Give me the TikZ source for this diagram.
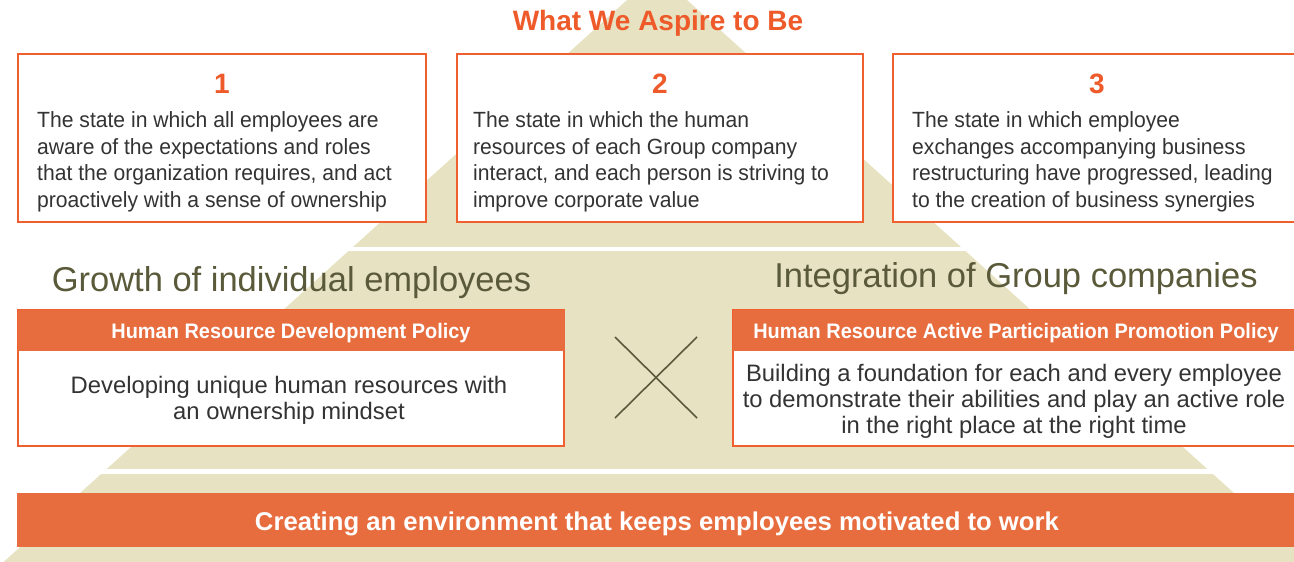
\documentclass[tikz,border=0pt]{standalone}
\usepackage{fontspec}
\setmainfont{Liberation Sans}
\newfontfamily\bodyf[FakeStretch=0.96]{Liberation Sans}
\newfontfamily\hdrf[FakeStretch=0.95]{Liberation Sans}
\definecolor{tan}{HTML}{E6E2C2}
\definecolor{orline}{HTML}{EF5F30}
\definecolor{orfill}{HTML}{E76C3E}
\definecolor{ornum}{HTML}{EE5A2A}
\definecolor{olive}{HTML}{5A5A3A}
\definecolor{txt}{HTML}{333333}
\begin{document}
\begin{tikzpicture}[x=1pt,y=-1pt,
  statebox/.style={draw=orline, line width=2pt, fill=white, inner sep=0pt},
  hdrbar/.style={draw=orfill, line width=1pt, fill=orfill, inner sep=0pt},
  numtext/.style={text=ornum, font=\bfseries\fontsize{28}{30}\selectfont},
  bodytext/.style={text=txt, inner sep=0pt, font=\bodyf\fontsize{22}{26.5}\selectfont},
  polytext/.style={text=txt, inner sep=0pt, font=\fontsize{23.8}{26}\selectfont},
  hdrtext/.style={text=white, inner sep=0pt, font=\hdrf\bfseries\fontsize{21}{24}\selectfont},
  pillar/.style={text=olive, inner sep=0pt, font=\fontsize{34.5}{38}\selectfont},
  crossline/.style={draw=olive, line width=1.6pt}
]
\useasboundingbox (0,0) rectangle (1294,562);
\clip (0,0) rectangle (1294,562);
% pyramid
\fill[tan] (657,-27) -- (1356,603) -- (-42,603) -- cycle;
\fill[white] (0,246.5) rectangle (1294,250.5);
\fill[white] (0,469) rectangle (1294,473.5);
% title
\node[text=ornum, inner sep=0pt, font=\bfseries\fontsize{28}{30}\selectfont] (title) at (658,23.5) {What We Aspire to Be};
% state boxes
\node[statebox, minimum width=408pt, minimum height=168pt] (b1) at (222,138) {};
\node[statebox, minimum width=406pt, minimum height=168pt] (b2) at (660,138) {};
\node[statebox, minimum width=408pt, minimum height=168pt] (b3) at (1097,138) {};
\node[numtext] (n1) at (222,83.5) {1};
\node[numtext] (n2) at (660,83.5) {2};
\node[numtext] (n3) at (1097,83.5) {3};
\node[bodytext, align=left, anchor=west] (t1) at (37,162) {The state in which all employees are\\aware of the expectations and roles\\that the organization requires, and act\\proactively with a sense of ownership};
\node[bodytext, align=left, anchor=west] (t2) at (473,162) {The state in which the human\\resources of each Group company\\interact, and each person is striving to\\improve corporate value};
\node[bodytext, align=left, anchor=west] (t3) at (912,162) {The state in which employee\\exchanges accompanying business\\restructuring have progressed, leading\\to the creation of business synergies};
% pillars
\node[pillar] (g1) at (291.5,283) {Growth of individual employees};
\node[pillar] (g2) at (1016,279) {Integration of Group companies};
% policy boxes
\node[statebox, minimum width=546pt, minimum height=136pt] (p1) at (291,378) {};
\node[statebox, minimum width=567pt, minimum height=136pt] (p2) at (1016.5,378) {};
\node[hdrbar, minimum width=546pt, minimum height=40pt] (h1) at (291,330) {};
\node[hdrbar, minimum width=567pt, minimum height=40pt] (h2) at (1016.5,330) {};
\node[hdrtext] (ht1) at (291,333) {Human Resource Development Policy};
\node[hdrtext] (ht2) at (1016,333) {Human Resource Active Participation Promotion Policy};
\node[polytext, align=center] (pt1) at (289,400) {Developing unique human resources with\\an ownership mindset};
\node[polytext, align=center] (pt2) at (1014,401) {Building a foundation for each and every employee\\to demonstrate their abilities and play an active role\\in the right place at the right time};
% cross
\coordinate (xa) at (615,337);
\coordinate (xb) at (697,418);
\coordinate (xc) at (697,337);
\coordinate (xd) at (615,418);
\draw[crossline] (xa) -- (xb);
\draw[crossline] (xc) -- (xd);
% base bar
\node[fill=orfill, inner sep=0pt, minimum width=1283pt, minimum height=54pt] (base) at (658.5,520) {};
\node[text=white, inner sep=0pt, font=\bfseries\fontsize{25.7}{28}\selectfont] (basetext) at (657,523.5) {Creating an environment that keeps employees motivated to work};
\end{tikzpicture}
\end{document}
